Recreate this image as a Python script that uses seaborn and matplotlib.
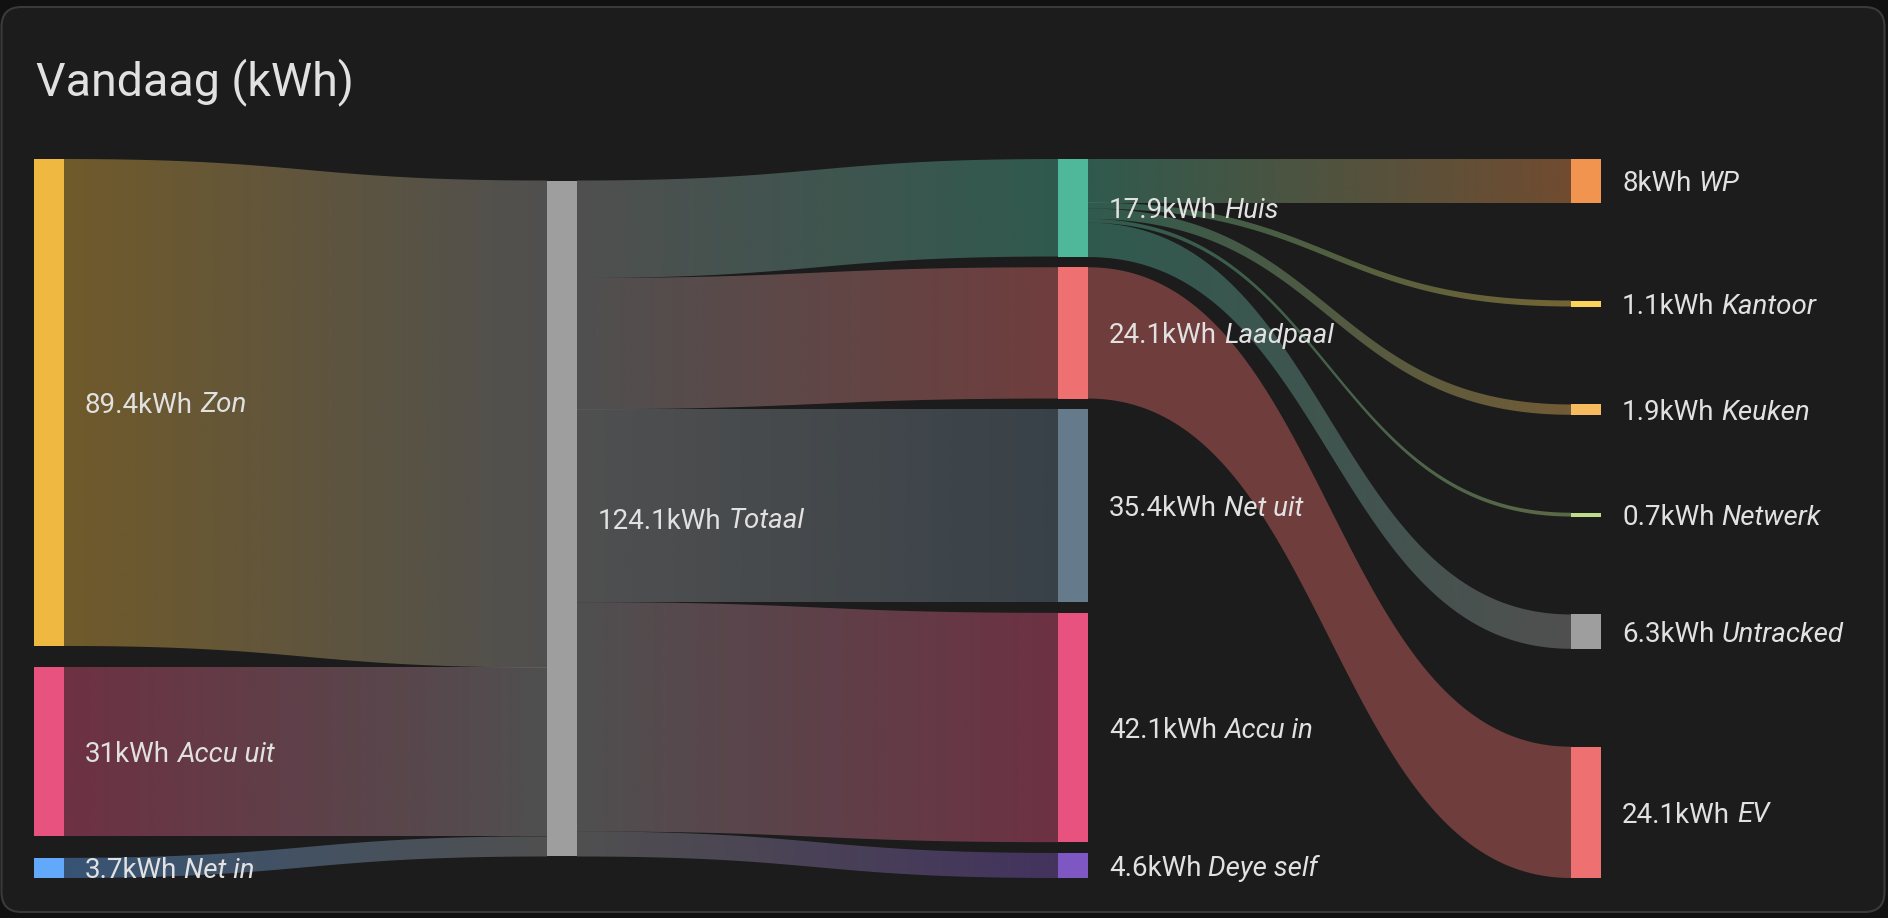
import numpy as np
import matplotlib
matplotlib.use("Agg")
import matplotlib.pyplot as plt
import seaborn as sns
from matplotlib.patches import FancyBboxPatch, PathPatch, Rectangle
from matplotlib.path import Path
import matplotlib.colors as mcolors

# ---------------- data ----------------
title = "Vandaag (kWh)"
unit = "kWh"

col0_names = ["Zon", "Accu uit", "Net in"]
col0_values = [89.4, 31.0, 3.7]
col1_names = ["Totaal"]
col1_values = [124.1]
col2_names = ["Huis", "Laadpaal", "Net uit", "Accu in", "Deye self"]
col2_values = [17.9, 24.1, 35.4, 42.1, 4.6]
col3_names = ["WP", "Kantoor", "Keuken", "Netwerk", "Untracked", "EV"]
col3_values = [8.0, 1.1, 1.9, 0.7, 6.3, 24.1]

node_color_list = {
    "Zon": "#efb941", "Accu uit": "#e8527f", "Net in": "#62a8fb",
    "Totaal": "#9e9e9e",
    "Huis": "#4fb89a", "Laadpaal": "#ef7070", "Net uit": "#657b8c",
    "Accu in": "#e8527f", "Deye self": "#7e57c2",
    "WP": "#f0944f", "Kantoor": "#f9d35a", "Keuken": "#f5bb5e",
    "Netwerk": "#bedd8b", "Untracked": "#9e9e9e", "EV": "#ef7070",
}

link_sources = ["Zon", "Accu uit", "Net in",
                "Totaal", "Totaal", "Totaal", "Totaal", "Totaal",
                "Huis", "Huis", "Huis", "Huis", "Huis",
                "Laadpaal"]
link_targets = ["Totaal", "Totaal", "Totaal",
                "Huis", "Laadpaal", "Net uit", "Accu in", "Deye self",
                "WP", "Kantoor", "Keuken", "Netwerk", "Untracked",
                "EV"]
link_values = [89.4, 31.0, 3.7,
               17.9, 24.1, 35.4, 42.1, 4.6,
               8.0, 1.1, 1.9, 0.7, 6.3,
               24.1]

# ---------------- style ----------------
sns.set_theme(style="dark")
plt.rcParams["font.family"] = ["Roboto", "DejaVu Sans"]

W, H = 1888, 918
BG_OUT = "#111111"
BG_CARD = "#1c1c1c"
TXT = "#e1e1e1"
LINK_ALPHA = 0.4

fig = plt.figure(figsize=(W / 100, H / 100), dpi=100, facecolor=BG_OUT)
ax = fig.add_axes([0, 0, 1, 1])
ax.set_xlim(0, W)
ax.set_ylim(H, 0)
ax.axis("off")
ax.set_facecolor(BG_OUT)

card = FancyBboxPatch((1.5, 7), W - 5, H - 13,
                      boxstyle="round,pad=0,rounding_size=20",
                      facecolor=BG_CARD, edgecolor="#3a3a3a", linewidth=1.5, zorder=0)
ax.add_patch(card)

ax.text(36, 82, title, color=TXT, fontsize=33.5, va="center", ha="left",
        fontfamily=["Roboto", "DejaVu Sans"], zorder=5)

# ---------------- layout ----------------
columns = [(col0_names, col0_values), (col1_names, col1_values),
           (col2_names, col2_values), (col3_names, col3_values)]
col_x = [34, 547, 1058, 1571]
node_w = 30
top, bottom = 159, 878
scale = 5.447  # px per kWh

nodes = {}
for ci, (names, vals) in enumerate(columns):
    heights = [v * scale for v in vals]
    if len(names) == 1:
        y = (top + bottom) / 2 - heights[0] / 2
        gap = 0
    else:
        gap = (bottom - top - sum(heights)) / (len(names) - 1)
        y = top
    for n, v, h in zip(names, vals, heights):
        nodes[n] = dict(x=col_x[ci], y0=y, y1=y + h, value=v, col=ci)
        y += h + gap

out_off = {n: nodes[n]["y0"] for n in nodes}
in_off = {n: nodes[n]["y0"] for n in nodes}


def bez(x0, ya, x1, yb, n=120):
    t = np.linspace(0, 1, n)
    xm = (x0 + x1) / 2
    px = (1 - t) ** 3 * x0 + 3 * (1 - t) ** 2 * t * xm + 3 * (1 - t) * t ** 2 * xm + t ** 3 * x1
    py = (1 - t) ** 3 * ya + 3 * (1 - t) ** 2 * t * ya + 3 * (1 - t) * t ** 2 * yb + t ** 3 * yb
    return px, py


for s, t, v in zip(link_sources, link_targets, link_values):
    h = v * scale
    sy0 = out_off[s]; out_off[s] += h
    ty0 = in_off[t]; in_off[t] += h
    x0 = nodes[s]["x"] + node_w
    x1 = nodes[t]["x"]
    tx, tyy = bez(x0, sy0, x1, ty0)
    bx, byy = bez(x0, sy0 + h, x1, ty0 + h)
    verts = np.vstack([np.column_stack([tx, tyy]), np.column_stack([bx[::-1], byy[::-1]]), [[tx[0], tyy[0]]]])
    codes = [Path.MOVETO] + [Path.LINETO] * (len(verts) - 2) + [Path.CLOSEPOLY]
    path = Path(verts, codes)
    patch = PathPatch(path, facecolor="none", edgecolor="none")
    ax.add_patch(patch)
    c0 = np.array(mcolors.to_rgb(node_color_list[s]))
    c1 = np.array(mcolors.to_rgb(node_color_list[t]))
    tt = np.linspace(0, 1, 256)[:, None]
    grad = c0 * (1 - tt) + c1 * tt
    rgba = np.concatenate([grad, np.full((256, 1), LINK_ALPHA)], axis=1)[None, :, :]
    ymin = min(sy0, ty0) - 2
    ymax = max(sy0, ty0) + h + 2
    im = ax.imshow(rgba, extent=(x0, x1, ymax, ymin), aspect="auto",
                   interpolation="bilinear", zorder=1)
    im.set_clip_path(patch)

for n, d in nodes.items():
    ax.add_patch(Rectangle((d["x"], d["y0"]), node_w, d["y1"] - d["y0"],
                           facecolor=node_color_list[n], edgecolor="none", zorder=3))

ax.set_xlim(0, W)
ax.set_ylim(H, 0)

fs = 20
fig.canvas.draw()
renderer = fig.canvas.get_renderer()
for n, d in nodes.items():
    xl = d["x"] + node_w + 21
    yc = (d["y0"] + d["y1"]) / 2
    t1 = ax.text(xl, yc, f"{d['value']:g}{unit}", color=TXT, fontsize=fs,
                 va="center_baseline", ha="left", zorder=5)
    wpx = t1.get_window_extent(renderer=renderer).width
    ax.text(xl + wpx + fs * 0.25 * 100 / 72, yc, n, color=TXT, fontsize=fs,
            style="italic", va="center_baseline", ha="left", zorder=5)

fig.savefig("out.png", dpi=100, facecolor=BG_OUT)
